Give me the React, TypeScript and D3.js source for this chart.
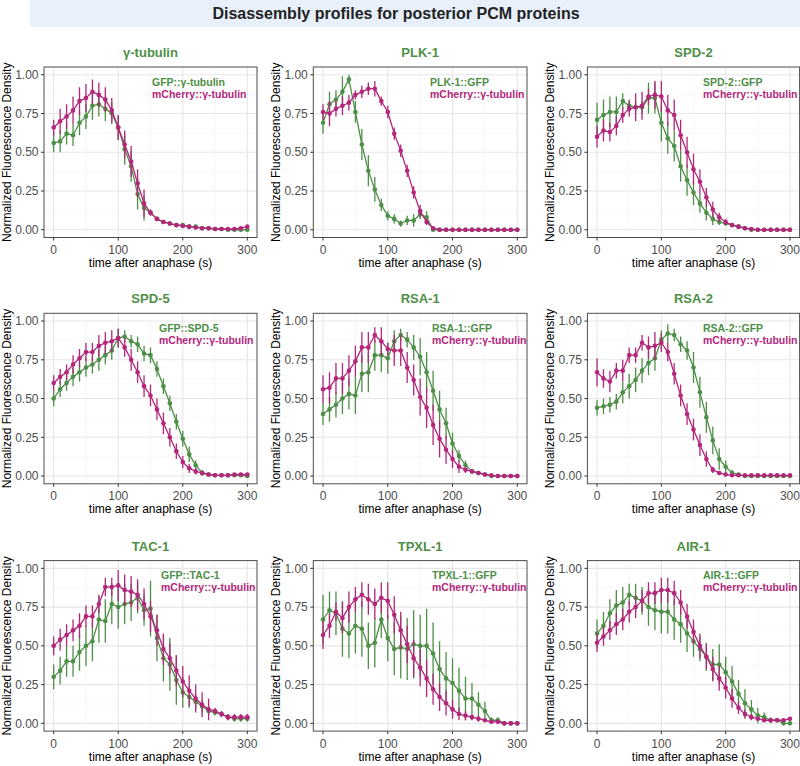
import React from "react";
import * as d3 from "d3";

// ---------------- DATA ----------------
const TIME = [0, 10, 20, 30, 40, 50, 60, 70, 80, 90, 100, 110, 120, 130, 140, 150, 160, 170, 180, 190, 200, 210, 220, 230, 240, 250, 260, 270, 280, 290, 300];
const X_TICKS = [0, 100, 200, 300];
const Y_TICKS = [0, 0.25, 0.5, 0.75, 1];
const Y_TICK_LABELS = ["0.00", "0.25", "0.50", "0.75", "1.00"];

const MAIN_TITLE = "Disassembly profiles for posterior PCM proteins";
const X_TITLE = "time after anaphase (s)";
const Y_TITLE = "Normalized Fluorescence Density";

const PANEL_TITLES = ["γ-tubulin", "PLK-1", "SPD-2", "SPD-5", "RSA-1", "RSA-2", "TAC-1", "TPXL-1", "AIR-1"];
const GREEN_LABELS = ["GFP::γ-tubulin", "PLK-1::GFP", "SPD-2::GFP", "GFP::SPD-5", "RSA-1::GFP", "RSA-2::GFP", "GFP::TAC-1", "TPXL-1::GFP", "AIR-1::GFP"];
const MAGENTA_LABEL = "mCherry::γ-tubulin";

const GTUB_G = [0.56, 0.57, 0.62, 0.61, 0.69, 0.73, 0.80, 0.81, 0.78, 0.75, 0.66, 0.52, 0.41, 0.23, 0.14, 0.11, 0.07, 0.05, 0.04, 0.03, 0.03, 0.02, 0.02, 0.01, 0.01, 0.005, 0.005, 0, 0, 0, 0];
const GTUB_G_E = [0.06, 0.07, 0.07, 0.07, 0.08, 0.08, 0.09, 0.08, 0.08, 0.07, 0.08, 0.10, 0.10, 0.10, 0.08, 0.02, 0.01, 0.01, 0.01, 0.01, 0.01, 0.01, 0.01, 0.01, 0.01, 0.01, 0.01, 0.01, 0.01, 0.01, 0.01];
const GTUB_M = [0.66, 0.70, 0.73, 0.77, 0.83, 0.85, 0.89, 0.87, 0.84, 0.77, 0.66, 0.55, 0.44, 0.30, 0.17, 0.11, 0.07, 0.05, 0.04, 0.03, 0.025, 0.02, 0.015, 0.01, 0.01, 0.005, 0.005, 0.005, 0.005, 0.01, 0.02];
const GTUB_M_E = [0.05, 0.08, 0.08, 0.09, 0.09, 0.09, 0.08, 0.08, 0.08, 0.08, 0.08, 0.09, 0.10, 0.09, 0.09, 0.02, 0.01, 0.01, 0.01, 0.01, 0.01, 0.01, 0.01, 0.01, 0.01, 0.01, 0.01, 0.01, 0.01, 0.01, 0.01];

const PLK_G = [0.69, 0.81, 0.84, 0.89, 0.97, 0.76, 0.55, 0.38, 0.26, 0.16, 0.09, 0.07, 0.04, 0.06, 0.06, 0.10, 0.08, 0, 0, 0, 0, 0, 0, 0, 0, 0, 0, 0, 0, 0, 0];
const PLK_G_E = [0.07, 0.08, 0.06, 0.10, 0.03, 0.07, 0.10, 0.10, 0.08, 0.04, 0.03, 0.03, 0.02, 0.03, 0.04, 0.03, 0.04, 0, 0, 0, 0, 0, 0, 0, 0, 0, 0, 0, 0, 0, 0];
const PLK_M = [0.76, 0.75, 0.78, 0.80, 0.82, 0.87, 0.89, 0.91, 0.91, 0.83, 0.76, 0.62, 0.51, 0.38, 0.24, 0.12, 0.05, 0.01, 0, 0, 0, 0, 0, 0, 0, 0, 0, 0, 0, 0, 0];
const PLK_M_E = [0.05, 0.08, 0.05, 0.06, 0.05, 0.03, 0.04, 0.04, 0.05, 0.03, 0.04, 0.04, 0.04, 0.04, 0.04, 0.04, 0.02, 0, 0, 0, 0, 0, 0, 0, 0, 0, 0, 0, 0, 0, 0];

const SPD2_G = [0.71, 0.74, 0.76, 0.76, 0.83, 0.80, 0.79, 0.79, 0.85, 0.85, 0.69, 0.59, 0.54, 0.41, 0.32, 0.24, 0.17, 0.11, 0.07, 0.05, 0.04, 0.03, 0.02, 0.01, 0, 0, 0, 0, 0, 0, 0];
const SPD2_G_E = [0.11, 0.10, 0.10, 0.10, 0.05, 0.04, 0.04, 0.04, 0.10, 0.10, 0.12, 0.10, 0.10, 0.10, 0.10, 0.08, 0.06, 0.05, 0.04, 0.02, 0.01, 0.01, 0.01, 0.01, 0, 0, 0, 0, 0, 0, 0];
const SPD2_M = [0.60, 0.64, 0.63, 0.67, 0.74, 0.78, 0.79, 0.80, 0.86, 0.87, 0.86, 0.77, 0.74, 0.61, 0.50, 0.39, 0.31, 0.21, 0.13, 0.08, 0.05, 0.03, 0.02, 0.01, 0.005, 0, 0, 0, 0, 0, 0];
const SPD2_M_E = [0.07, 0.07, 0.06, 0.06, 0.05, 0.05, 0.09, 0.09, 0.05, 0.09, 0.10, 0.10, 0.10, 0.10, 0.10, 0.10, 0.08, 0.06, 0.05, 0.03, 0.02, 0.01, 0.01, 0, 0, 0, 0, 0, 0, 0, 0];

const SPD5_G = [0.50, 0.56, 0.60, 0.64, 0.67, 0.70, 0.72, 0.75, 0.78, 0.81, 0.89, 0.90, 0.87, 0.85, 0.79, 0.78, 0.69, 0.58, 0.47, 0.35, 0.24, 0.14, 0.07, 0.02, 0.01, 0.005, 0.005, 0.005, 0.005, 0.005, 0];
const SPD5_G_E = [0.05, 0.05, 0.05, 0.06, 0.06, 0.06, 0.06, 0.07, 0.06, 0.06, 0.06, 0.04, 0.04, 0.05, 0.05, 0.05, 0.05, 0.05, 0.05, 0.05, 0.05, 0.05, 0.03, 0.02, 0.01, 0.01, 0.01, 0.01, 0.01, 0.01, 0.01];
const SPD5_M = [0.60, 0.64, 0.67, 0.72, 0.76, 0.80, 0.80, 0.84, 0.86, 0.87, 0.89, 0.83, 0.75, 0.67, 0.58, 0.52, 0.43, 0.34, 0.25, 0.16, 0.09, 0.05, 0.03, 0.02, 0.01, 0.005, 0.005, 0.005, 0.01, 0.01, 0.01];
const SPD5_M_E = [0.05, 0.05, 0.05, 0.06, 0.06, 0.06, 0.06, 0.07, 0.07, 0.07, 0.06, 0.06, 0.07, 0.07, 0.07, 0.07, 0.07, 0.07, 0.06, 0.05, 0.04, 0.03, 0.02, 0.01, 0.01, 0.01, 0.01, 0.01, 0.01, 0.01, 0.01];

const RSA1_G = [0.40, 0.43, 0.46, 0.50, 0.53, 0.52, 0.66, 0.67, 0.78, 0.78, 0.76, 0.87, 0.91, 0.88, 0.83, 0.77, 0.67, 0.55, 0.43, 0.34, 0.21, 0.13, 0.07, 0.03, 0.02, 0.01, 0, 0, 0, 0, 0];
const RSA1_G_E = [0.07, 0.08, 0.08, 0.10, 0.10, 0.12, 0.12, 0.13, 0.10, 0.11, 0.10, 0.07, 0.04, 0.05, 0.08, 0.12, 0.13, 0.13, 0.12, 0.10, 0.07, 0.04, 0.03, 0.01, 0.01, 0.01, 0, 0, 0, 0, 0];
const RSA1_M = [0.56, 0.57, 0.63, 0.63, 0.68, 0.74, 0.83, 0.83, 0.91, 0.87, 0.82, 0.81, 0.81, 0.70, 0.62, 0.51, 0.44, 0.33, 0.24, 0.17, 0.11, 0.06, 0.04, 0.03, 0.02, 0.01, 0.005, 0, 0, 0, 0];
const RSA1_M_E = [0.09, 0.10, 0.10, 0.10, 0.10, 0.10, 0.10, 0.10, 0.05, 0.09, 0.04, 0.10, 0.10, 0.10, 0.10, 0.12, 0.13, 0.13, 0.12, 0.09, 0.06, 0.04, 0.02, 0.01, 0.01, 0, 0, 0, 0, 0, 0];

const RSA2_G = [0.44, 0.45, 0.46, 0.48, 0.54, 0.58, 0.62, 0.68, 0.73, 0.76, 0.88, 0.92, 0.91, 0.85, 0.81, 0.70, 0.54, 0.38, 0.23, 0.11, 0.06, 0.02, 0.01, 0, 0, 0, 0, 0, 0, 0, 0];
const RSA2_G_E = [0.05, 0.05, 0.05, 0.05, 0.07, 0.08, 0.08, 0.08, 0.08, 0.08, 0.06, 0.06, 0.04, 0.05, 0.06, 0.10, 0.10, 0.10, 0.09, 0.07, 0.04, 0.02, 0.01, 0, 0, 0, 0, 0, 0, 0, 0];
const RSA2_M = [0.67, 0.63, 0.61, 0.68, 0.68, 0.78, 0.78, 0.86, 0.83, 0.84, 0.86, 0.80, 0.66, 0.52, 0.40, 0.30, 0.20, 0.11, 0.04, 0.02, 0.01, 0.005, 0.005, 0.005, 0.005, 0.005, 0.005, 0.005, 0.005, 0.005, 0.005];
const RSA2_M_E = [0.09, 0.06, 0.07, 0.05, 0.07, 0.05, 0.05, 0.05, 0.07, 0.09, 0.06, 0.06, 0.07, 0.07, 0.07, 0.07, 0.07, 0.05, 0.02, 0.01, 0, 0, 0, 0, 0, 0, 0, 0, 0, 0, 0];

const TAC1_G = [0.30, 0.34, 0.40, 0.40, 0.46, 0.50, 0.53, 0.67, 0.66, 0.77, 0.75, 0.77, 0.78, 0.81, 0.73, 0.74, 0.55, 0.42, 0.38, 0.28, 0.20, 0.17, 0.14, 0.11, 0.08, 0.07, 0.06, 0.04, 0.03, 0.03, 0.03];
const TAC1_G_E = [0.08, 0.09, 0.10, 0.10, 0.12, 0.13, 0.13, 0.15, 0.14, 0.13, 0.14, 0.13, 0.12, 0.10, 0.10, 0.18, 0.15, 0.15, 0.17, 0.16, 0.10, 0.07, 0.05, 0.04, 0.03, 0.02, 0.02, 0.02, 0.02, 0.02, 0.02];
const TAC1_M = [0.50, 0.54, 0.57, 0.60, 0.63, 0.69, 0.69, 0.77, 0.88, 0.88, 0.89, 0.86, 0.85, 0.83, 0.77, 0.69, 0.60, 0.48, 0.42, 0.34, 0.27, 0.21, 0.16, 0.12, 0.09, 0.08, 0.06, 0.04, 0.04, 0.04, 0.04];
const TAC1_M_E = [0.06, 0.07, 0.07, 0.07, 0.08, 0.07, 0.07, 0.06, 0.06, 0.06, 0.10, 0.10, 0.10, 0.10, 0.10, 0.10, 0.10, 0.10, 0.10, 0.10, 0.10, 0.10, 0.09, 0.08, 0.07, 0.02, 0.02, 0.02, 0.02, 0.02, 0.02];

const TPXL_G = [0.67, 0.73, 0.71, 0.61, 0.58, 0.63, 0.61, 0.50, 0.52, 0.67, 0.55, 0.48, 0.49, 0.48, 0.51, 0.50, 0.50, 0.45, 0.35, 0.29, 0.26, 0.21, 0.16, 0.16, 0.12, 0.08, 0.02, 0.02, 0, 0, 0];
const TPXL_G_E = [0.16, 0.12, 0.14, 0.18, 0.16, 0.18, 0.18, 0.15, 0.16, 0.12, 0.15, 0.17, 0.20, 0.20, 0.22, 0.20, 0.24, 0.20, 0.18, 0.17, 0.16, 0.15, 0.14, 0.10, 0.08, 0.06, 0.02, 0.02, 0, 0, 0];
const TPXL_M = [0.57, 0.63, 0.72, 0.68, 0.75, 0.80, 0.83, 0.80, 0.77, 0.81, 0.79, 0.70, 0.60, 0.51, 0.42, 0.36, 0.29, 0.22, 0.17, 0.13, 0.09, 0.06, 0.05, 0.04, 0.03, 0.02, 0.01, 0.01, 0, 0, 0];
const TPXL_M_E = [0.09, 0.08, 0.06, 0.10, 0.10, 0.08, 0.08, 0.10, 0.10, 0.10, 0.12, 0.12, 0.12, 0.12, 0.12, 0.12, 0.12, 0.10, 0.09, 0.08, 0.06, 0.04, 0.03, 0.02, 0.02, 0.01, 0, 0, 0, 0, 0];

const AIR1_G = [0.58, 0.63, 0.71, 0.76, 0.78, 0.83, 0.81, 0.79, 0.75, 0.73, 0.72, 0.72, 0.67, 0.64, 0.58, 0.53, 0.48, 0.43, 0.38, 0.38, 0.33, 0.27, 0.19, 0.13, 0.09, 0.05, 0.04, 0.02, 0.02, 0, 0];
const AIR1_G_E = [0.09, 0.09, 0.09, 0.10, 0.10, 0.07, 0.09, 0.09, 0.12, 0.13, 0.14, 0.14, 0.13, 0.12, 0.12, 0.10, 0.08, 0.09, 0.10, 0.13, 0.10, 0.10, 0.09, 0.09, 0.06, 0.05, 0.03, 0.02, 0.01, 0.01, 0.01];
const AIR1_M = [0.52, 0.56, 0.60, 0.64, 0.67, 0.72, 0.75, 0.79, 0.84, 0.84, 0.86, 0.86, 0.84, 0.78, 0.69, 0.59, 0.50, 0.43, 0.35, 0.29, 0.23, 0.16, 0.10, 0.06, 0.04, 0.03, 0.02, 0.02, 0.02, 0.02, 0.03];
const AIR1_M_E = [0.06, 0.06, 0.06, 0.07, 0.07, 0.07, 0.07, 0.07, 0.07, 0.07, 0.08, 0.08, 0.08, 0.08, 0.08, 0.08, 0.08, 0.08, 0.08, 0.08, 0.07, 0.06, 0.04, 0.03, 0.02, 0.01, 0.01, 0.01, 0.01, 0.01, 0.01];

const GREEN_MEANS = [GTUB_G, PLK_G, SPD2_G, SPD5_G, RSA1_G, RSA2_G, TAC1_G, TPXL_G, AIR1_G];
const GREEN_ERRS = [GTUB_G_E, PLK_G_E, SPD2_G_E, SPD5_G_E, RSA1_G_E, RSA2_G_E, TAC1_G_E, TPXL_G_E, AIR1_G_E];
const MAG_MEANS = [GTUB_M, PLK_M, SPD2_M, SPD5_M, RSA1_M, RSA2_M, TAC1_M, TPXL_M, AIR1_M];
const MAG_ERRS = [GTUB_M_E, PLK_M_E, SPD2_M_E, SPD5_M_E, RSA1_M_E, RSA2_M_E, TAC1_M_E, TPXL_M_E, AIR1_M_E];

// ---------------- LAYOUT / STYLE ----------------
const W = 800;
const H = 766;
const GREEN = "#4e8f47";
const MAGENTA = "#b4267b";
const FONT = "'Liberation Sans', Arial, Helvetica, sans-serif";
const COLS = [
  { left: 44, right: 257 },
  { left: 313.3, right: 527 },
  { left: 587.4, right: 799.6 },
];
const ROWS = [
  { top: 67, bottom: 237.5 },
  { top: 313.3, bottom: 483.8 },
  { top: 560.6, bottom: 731.1 },
];
const LEGEND_X = [152, 430, 703, 159, 432, 703, 161, 432, 703];

function Panel({ idx }: { idx: number }) {
  const col = COLS[idx % 3];
  const row = ROWS[Math.floor(idx / 3)];
  const x = d3.scaleLinear().domain([-15, 315]).range([col.left, col.right]);
  const y = d3.scaleLinear().domain([-0.05, 1.05]).range([row.bottom, row.top]);
  const xMinor = [50, 150, 250];
  const yMinor = [0.125, 0.375, 0.625, 0.875];
  const clipId = `clip-${idx}`;

  const series = [
    { means: GREEN_MEANS[idx], errs: GREEN_ERRS[idx], color: GREEN },
    { means: MAG_MEANS[idx], errs: MAG_ERRS[idx], color: MAGENTA },
  ];
  const line = d3
    .line<number>()
    .x((_, i) => x(TIME[i]))
    .y((d) => y(d));

  const cx = (col.left + col.right) / 2;
  const cy = (row.top + row.bottom) / 2;

  return (
    <g>
      <defs>
        <clipPath id={clipId}>
          <rect x={col.left} y={row.top} width={col.right - col.left} height={row.bottom - row.top} />
        </clipPath>
      </defs>
      <rect x={col.left} y={row.top} width={col.right - col.left} height={row.bottom - row.top} fill="#ffffff" />
      {xMinor.map((v) => (
        <line key={"xm" + v} x1={x(v)} x2={x(v)} y1={row.top} y2={row.bottom} stroke="#f2f2f2" strokeWidth={0.6} />
      ))}
      {yMinor.map((v) => (
        <line key={"ym" + v} x1={col.left} x2={col.right} y1={y(v)} y2={y(v)} stroke="#f2f2f2" strokeWidth={0.6} />
      ))}
      {X_TICKS.map((v) => (
        <line key={"xg" + v} x1={x(v)} x2={x(v)} y1={row.top} y2={row.bottom} stroke="#e6e6e6" strokeWidth={1.1} />
      ))}
      {Y_TICKS.map((v) => (
        <line key={"yg" + v} x1={col.left} x2={col.right} y1={y(v)} y2={y(v)} stroke="#e6e6e6" strokeWidth={1.1} />
      ))}
      <g clipPath={`url(#${clipId})`}>
        {series.map((s, si) => (
          <g key={si}>
            {s.means.map((m, i) => (
              <line
                key={"e" + i}
                x1={x(TIME[i])}
                x2={x(TIME[i])}
                y1={y(m - s.errs[i])}
                y2={y(m + s.errs[i])}
                stroke={s.color}
                strokeWidth={1.3}
              />
            ))}
            <path d={line(s.means) || ""} fill="none" stroke={s.color} strokeWidth={1.3} />
            {s.means.map((m, i) => (
              <circle key={"p" + i} cx={x(TIME[i])} cy={y(m)} r={2.3} fill={s.color} />
            ))}
          </g>
        ))}
        <text x={LEGEND_X[idx]} y={row.top + 18.5} fontFamily={FONT} fontSize={10.5} fontWeight="bold" fill={GREEN}>
          {GREEN_LABELS[idx]}
        </text>
        <text x={LEGEND_X[idx]} y={row.top + 30.5} fontFamily={FONT} fontSize={10.5} fontWeight="bold" fill={MAGENTA}>
          {MAGENTA_LABEL}
        </text>
      </g>
      <rect
        x={col.left}
        y={row.top}
        width={col.right - col.left}
        height={row.bottom - row.top}
        fill="none"
        stroke="#4d4d4d"
        strokeWidth={1}
      />
      {X_TICKS.map((v) => (
        <g key={"xt" + v}>
          <line x1={x(v)} x2={x(v)} y1={row.bottom} y2={row.bottom + 3} stroke="#333" strokeWidth={1} />
          <text x={x(v)} y={row.bottom + 16.5} textAnchor="middle" fontFamily={FONT} fontSize={12} fill="#4d4d4d">
            {v}
          </text>
        </g>
      ))}
      {Y_TICKS.map((v, i) => (
        <g key={"yt" + v}>
          <line x1={col.left - 3} x2={col.left} y1={y(v)} y2={y(v)} stroke="#333" strokeWidth={1} />
          <text
            x={col.left - 5.5}
            y={y(v)}
            dy="0.35em"
            textAnchor="end"
            fontFamily={FONT}
            fontSize={12}
            fill="#4d4d4d"
          >
            {Y_TICK_LABELS[i]}
          </text>
        </g>
      ))}
      <text x={cx} y={row.bottom + 29.5} textAnchor="middle" fontFamily={FONT} fontSize={12} fill="#000">
        {X_TITLE}
      </text>
      <text
        transform={`translate(${col.left - 33},${cy}) rotate(-90)`}
        textAnchor="middle"
        fontFamily={FONT}
        fontSize={12}
        fill="#000"
      >
        {Y_TITLE}
      </text>
      <text x={cx} y={row.top - 10} textAnchor="middle" fontFamily={FONT} fontSize={13} fontWeight="bold" fill={GREEN}>
        {PANEL_TITLES[idx]}
      </text>
    </g>
  );
}

export default function App() {
  return (
    <svg width={W} height={H} style={{ display: "block", position: "absolute", left: 0, top: 0 }}>
      <rect x={0} y={0} width={W} height={H} fill="#ffffff" />
      <rect x={30} y={0} width={770} height={27} fill="#e8f1fb" />
      <text x={396} y={19} textAnchor="middle" fontFamily={FONT} fontSize={16} fontWeight="bold" fill="#222">
        {MAIN_TITLE}
      </text>
      {PANEL_TITLES.map((_, i) => (
        <Panel key={i} idx={i} />
      ))}
    </svg>
  );
}
